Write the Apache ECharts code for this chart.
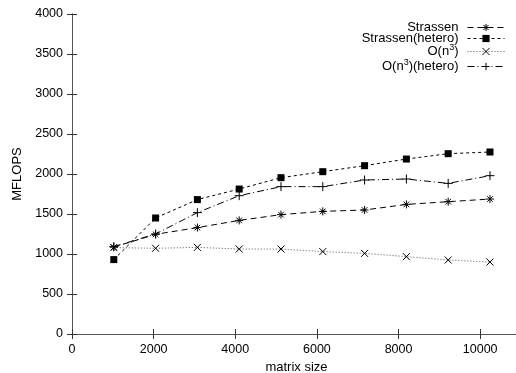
<!DOCTYPE html>
<html>
<head>
<meta charset="utf-8">
<script src="https://cdn.jsdelivr.net/npm/echarts@6/dist/echarts.min.js"></script>
<style>
  html, body { margin: 0; padding: 0; background: #fff; }
  #chart { width: 516px; height: 373px; }
</style>
</head>
<body>
<div id="chart"></div>
<script>
const sizes = [1024, 2048, 3072, 4096, 5120, 6144, 7168, 8192, 9216, 10240];
const strassen = [1085, 1246, 1330, 1420, 1492, 1533, 1550, 1620, 1654, 1687];
const strassenHetero = [930, 1450, 1680, 1812, 1954, 2029, 2104, 2187, 2254, 2275];
const cubic = [1080, 1071, 1083, 1062, 1062, 1030, 1008, 967, 925, 900];
const cubicHetero = [1092, 1250, 1517, 1729, 1842, 1842, 1925, 1937, 1883, 1979];
const names = ['Strassen', 'Strassen(hetero)', 'O(n^3)', 'O(n^3)(hetero)'];

const font = 'Liberation Sans, Arial, sans-serif';
const ink = '#000';

const pts = vals => sizes.map((s, i) => [s, vals[i]]);

const ASTER = 'path://M0 5L10 5M5 0L5 10M1.5 1.5L8.5 8.5M8.5 1.5L1.5 8.5';
const CROSS = 'path://M0 0L10 10M10 0L0 10';
const PLUS = 'path://M0 5L10 5M5 0L5 10';

function line(name, vals, symbol, size, dash, color, filled) {
  return {
    name, type: 'line', data: pts(vals),
    symbol, symbolSize: size, showAllSymbol: true,
    lineStyle: { color, width: 1, type: dash },
    itemStyle: filled
      ? { color: ink, borderWidth: 0 }
      : { color: 'rgba(0,0,0,0)', borderColor: ink, borderWidth: 1 },
    emphasis: { disabled: true },
    animation: false,
  };
}

const chart = echarts.init(document.getElementById('chart'));

const axisLine = { show: true, lineStyle: { color: '#333', width: 1 } };
const tickIn = { show: true, inside: true, length: 5, lineStyle: { color: '#333' } };
const plain = v => String(v);

chart.setOption({
  backgroundColor: '#fff',
  animation: false,
  grid: { left: 72, right: -5, top: 14, bottom: 39, outerBoundsMode: 'none', containLabel: false },
  legend: {
    right: 6, top: 16, orient: 'vertical', align: 'right',
    itemWidth: 37, itemHeight: 9, itemGap: -2,
    lineStyle: { width: 1 },
    itemStyle: { borderWidth: 1 },
    textStyle: {
      fontFamily: font, fontSize: 13, color: ink, lineHeight: 13, padding: [0, 4, 0, 0],
      rich: {
        a: { fontFamily: font, fontSize: 13, color: ink, lineHeight: 13 },
        s: { fontFamily: font, fontSize: 9, color: ink, lineHeight: 13, padding: [0, 0, 8, 0] },
      },
    },
    formatter: n => n.indexOf('^3') < 0 ? n :
      n.split('^3').map(p => p ? '{a|' + p + '}' : '').join('{s|3}'),
    data: names,
  },
  xAxis: [{
    type: 'value', min: 0, max: 11000, interval: 2000,
    name: 'matrix size', nameLocation: 'middle', nameGap: 25,
    nameTextStyle: { fontFamily: font, fontSize: 13, color: ink, verticalAlign: 'top' },
    axisLine, axisTick: tickIn, splitLine: { show: false },
    axisLabel: { fontFamily: font, fontSize: 12.5, color: ink, margin: 9, showMaxLabel: false, formatter: plain },
  }, {
    type: 'value', position: 'top', min: 0, max: 11000, interval: 2000,
    axisLine: { show: true, lineStyle: { color: '#555', width: 1 } },
    axisTick: tickIn, axisLabel: { show: false }, splitLine: { show: false },
  }],
  yAxis: [{
    type: 'value', min: 0, max: 4000, interval: 500,
    name: 'MFLOPS', nameLocation: 'middle', nameGap: 44, nameRotate: 90,
    nameTextStyle: { fontFamily: font, fontSize: 13, color: ink },
    axisLine, axisTick: tickIn, splitLine: { show: false },
    axisLabel: { fontFamily: font, fontSize: 12.5, color: ink, margin: 9, formatter: plain },
  }, {
    type: 'value', position: 'right', min: 0, max: 4000, interval: 500,
    axisLine: { show: true, lineStyle: { color: '#555', width: 1 } },
    axisTick: tickIn, axisLabel: { show: false }, splitLine: { show: false },
  }],
  series: [
    line(names[0], strassen, ASTER, 8, [6, 4], ink, false),
    line(names[1], strassenHetero, 'rect', 7, [3, 3], ink, true),
    line(names[2], cubic, CROSS, 7, [1, 2], '#555', false),
    line(names[3], cubicHetero, PLUS, 9, [7, 3, 1, 3], ink, false),
  ],
});
</script>
</body>
</html>
